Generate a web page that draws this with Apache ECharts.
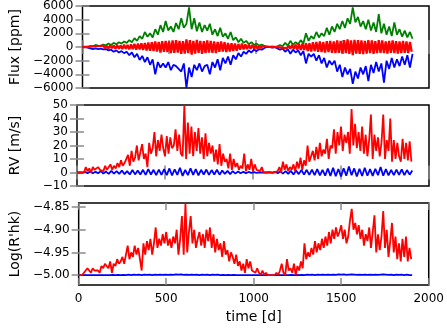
<!DOCTYPE html>
<html>
<head>
<meta charset="utf-8">
<script src="https://cdn.jsdelivr.net/npm/echarts@6/dist/echarts.min.js"></script>
<style>
  html, body { margin: 0; padding: 0; background: #fff; }
  #main { width: 447px; height: 335px; }
</style>
</head>
<body>
<div id="main"></div>
<script>
// sampling times [d] for the green / blue curves
const days = [
  0, 15, 30, 45, 60, 75, 90, 105, 120, 135, 150, 165, 180, 195, 210, 225,
  240, 255, 270, 285, 300, 315, 330, 345, 360, 375, 390, 405, 420, 435, 450, 465,
  480, 495, 510, 525, 540, 555, 570, 585, 600, 615, 630, 645, 660, 675, 690, 705,
  720, 735, 750, 765, 780, 795, 810, 825, 840, 855, 870, 885, 900, 915, 930, 945,
  960, 975, 990, 1005, 1020, 1035, 1050, 1065, 1080, 1095, 1110, 1125, 1140, 1155, 1170, 1185,
  1200, 1215, 1230, 1245, 1260, 1275, 1290, 1305, 1320, 1335, 1350, 1365, 1380, 1395, 1410, 1425,
  1440, 1455, 1470, 1485, 1500, 1515, 1530, 1545, 1560, 1575, 1590, 1605, 1620, 1635, 1650, 1665,
  1680, 1695, 1710, 1725, 1740, 1755, 1770, 1785, 1800, 1815, 1830, 1845, 1860, 1875, 1890, 1905
]
// denser sampling [d] for the red curves
const redDays = [
  0, 10, 20, 30, 40, 50, 60, 70, 80, 90, 100, 110, 120, 130, 140, 150, 160, 170, 180, 190,
  200, 210, 220, 230, 240, 250, 260, 270, 280, 290, 300, 310, 320, 330, 340, 350, 360, 370, 380, 390,
  400, 410, 420, 430, 440, 450, 460, 470, 480, 490, 500, 510, 520, 530, 540, 550, 560, 570, 580, 590,
  600, 610, 620, 630, 640, 650, 660, 670, 680, 690, 700, 710, 720, 730, 740, 750, 760, 770, 780, 790,
  800, 810, 820, 830, 840, 850, 860, 870, 880, 890, 900, 910, 920, 930, 940, 950, 960, 970, 980, 990,
  1000, 1010, 1020, 1030, 1040, 1050, 1060, 1070, 1080, 1090, 1100, 1110, 1120, 1130, 1140, 1150, 1160, 1170, 1180, 1190,
  1200, 1210, 1220, 1230, 1240, 1250, 1260, 1270, 1280, 1290, 1300, 1310, 1320, 1330, 1340, 1350, 1360, 1370, 1380, 1390,
  1400, 1410, 1420, 1430, 1440, 1450, 1460, 1470, 1480, 1490, 1500, 1510, 1520, 1530, 1540, 1550, 1560, 1570, 1580, 1590,
  1600, 1610, 1620, 1630, 1640, 1650, 1660, 1670, 1680, 1690, 1700, 1710, 1720, 1730, 1740, 1750, 1760, 1770, 1780, 1790,
  1800, 1810, 1820, 1830, 1840, 1850, 1860, 1870, 1880, 1890, 1900
]

// Flux [ppm]
const fluxGreen = [
  0, 0, 0, 150, 100, 300, 200, 150, 350, 250, 500, 300, 600, 400, 700, 500,
  800, 600, 1000, 700, 1300, 900, 1600, 1200, 2200, 1500, 2000, 1400, 2600, 1800, 3200, 2200,
  3800, 2400, 3000, 2200, 3500, 2600, 4200, 2800, 3400, 5800, 2600, 4200, 2300, 3600, 2200, 3200,
  2400, 3400, 1800, 2600, 1600, 2800, 1500, 2000, 1200, 2200, 1000, 1400, 700, 1200, 600, 900,
  400, 700, 300, 500, 200, 350, 100, 0, 0, 50, 0, 100, 300, 100, 600, 200,
  900, 300, 700, 400, 1000, 500, 2000, 900, 1600, 1200, 2200, 1400, 2000, 1600, 2800, 1800,
  3000, 2200, 3400, 2600, 3800, 2800, 4200, 3400, 5800, 3600, 4400, 3000, 3800, 2600, 4000, 2400,
  3600, 2200, 4800, 2000, 3400, 1800, 3000, 1600, 3600, 1800, 2600, 1500, 2400, 1400, 2200, 1200
]
const fluxBlue = [
  0, 0, -100, -200, -300, -200, -300, -250, -350, -300, -500, -400, -700, -500, -800, -600,
  -900, -700, -1200, -800, -1500, -1000, -1900, -1300, -2200, -1500, -2600, -1800, -4000, -2200, -3000, -2400,
  -3000, -2200, -3400, -2600, -2800, -3200, -3600, -2400, -6000, -3000, -4400, -2600, -3400, -2400, -3600, -2800,
  -2600, -4000, -2200, -3000, -1800, -3400, -1600, -2400, -1400, -2600, -1200, -1800, -900, -1400, -700, -1000,
  -500, -800, -400, -600, -300, -400, -150, 0, 0, -100, 0, -200, -400, -200, -700, -300,
  -1000, -400, -800, -500, -1200, -600, -2400, -1000, -1400, -1000, -2000, -1200, -2400, -1600, -3000, -2000,
  -2600, -2000, -3600, -2600, -4400, -3000, -4000, -3200, -5400, -3600, -4600, -3000, -4000, -2800, -5000, -2600,
  -3800, -2200, -3600, -2400, -5200, -2000, -3200, -1600, -3000, -1800, -2800, -1400, -2600, -1200, -3000, -1000
]
const fluxRed = [
  0, 0, 0, 0, 50, -80, 100, -60, 120, -100, 150, -120, 200, -180, 150, -200, 250, -150, 220, -250,
  300, -250, 200, -300, 350, -280, 300, -350, 400, -300, 450, -400, 500, -350, 550, -450, 600, -500, 650, -550,
  700, -600, 800, -650, 750, -800, 850, -700, 900, -750, 800, -900, 950, -850, 1000, -800, 900, -1000, 850, -950,
  1100, -900, 1000, -1100, 900, -950, 1050, -850, 900, -1000, 850, -900, 950, -800, 900, -850, 800, -900, 750, -700,
  800, -650, 700, -750, 600, -650, 550, -600, 500, -550, 450, -400, 500, -350, 400, -300, 350, -250, 300, -200,
  250, -200, 200, -150, 150, -100, 80, -50, 30, 0, 0, 20, -30, 50, -60, 100, -120, 150, -180, 200,
  -250, 300, -280, 350, -400, 380, -450, 500, -450, 550, -600, 550, -650, 700, -600, 750, -700, 800, -750, 700,
  -800, 850, -750, 900, -850, 800, -900, 950, -850, 900, -950, 1000, -900, 1100, -1000, 950, -1200, 1050, -950, 1000,
  -1000, 950, -1050, 900, -950, 1000, -900, 950, -1000, 850, -900, 1000, -850, 950, -900, 800, -950, 900, -850, 950,
  -900, 850, -950, 800, -900, 900, -850, 800, -900, 750, -700
]

// RV [m/s]
const rvRed = [
  0, 0, 0, 0, 0, 4, 1, 3, 0, 4, 2, 1, 4, 2, 3, 1, 5, 2, 3, 6,
  2, 5, 3, 7, 4, 9, 5, 7, 6, 13, 5, 16, 8, 11, 20, 9, 15, 21, 10, 14,
  4, 22, 14, 18, 30, 12, 24, 16, 28, 18, 12, 27, 14, 26, 18, 20, 32, 16, 28, 14,
  12, 50, 10, 37, 14, 34, 12, 30, 16, 33, 14, 26, 10, 29, 12, 22, 14, 20, 8, 17,
  6, 21, 5, 14, 8, 10, 3, 14, 2, 10, 4, 7, 2, 5, 3, 14, 1, 6, 2, 10,
  1, 6, 2, 3, 1, 4, 0, 1, 0, 0, 0, 0, 0, 0, 1, 4, 0, 8, 2, 6,
  1, 4, 2, 6, 1, 8, 3, 11, 2, 9, 5, 20, 8, 12, 16, 9, 19, 10, 22, 12,
  17, 14, 25, 10, 20, 18, 32, 14, 30, 20, 34, 16, 28, 22, 30, 14, 47, 20, 36, 18,
  30, 16, 34, 14, 28, 12, 24, 43, 10, 28, 16, 26, 12, 22, 43, 10, 24, 16, 40, 8,
  24, 10, 22, 12, 8, 25, 10, 22, 9, 23, 8
]
const rvBlue = [
  0, 0, 0, 0.5, -0.5, 0.8, -0.6, 0.5, -0.5, 1, -0.8, 0.7, -1, 1.2, -0.8, 1,
  -1, 1.5, -1.2, 1, -1.5, 1.8, -1.4, 1.5, -1.5, 2, -1.8, 2.5, -1.5, 2, -2, 2.2,
  -1.8, 2.5, -2, 3, -2.2, 2.4, -1.8, 3.5, -2.5, 2, -2, 3, -1.8, 2.5, -2.2, 2,
  -1.5, 2.2, -1.8, 1.8, -1.5, 2, -1.6, 1.5, -1, 1.2, -1.2, 1, -0.8, 0.8, -0.6, 0.5,
  -0.5, 0.4, -0.3, 0.3, -0.2, 0.1, 0, 0, 0, 0.2, -0.3, 0.5, -0.6, 0.8, -0.8, 1,
  -1, 1.2, -1.5, 1.4, -1.2, 1.8, -1.6, 2, -1.8, 2.2, -2, 2.5, -2.2, 2, -2.4, 3,
  -2.5, 3.5, -2.8, 2.6, -3, 3.2, -2.4, 4.5, -2, 3, -3, 2.8, -2.6, 3.5, -2.4, 2.5,
  -2.5, 2.8, -2, 4, -2.4, 2.5, -2.2, 2, -2, 2.2, -1.8, 2.4, -2, 1.8, -1.6, 1.5
]

// Log(R'hk)
const rhkRed = [
  -5.0, -5.0, -5.0, -5.0, -4.99, -4.985, -4.99, -4.995, -4.985, -4.99, -4.99, -4.99, -4.995, -4.98, -4.985, -4.975, -4.98, -4.985, -4.97, -4.995,
  -4.975, -4.98, -4.965, -4.975, -4.97, -4.96, -4.975, -4.955, -4.935, -4.965, -4.95, -4.96, -4.935, -4.955, -4.94, -4.965, -4.99, -4.93, -4.955, -4.925,
  -4.945, -4.92, -4.955, -4.93, -4.895, -4.94, -4.92, -4.935, -4.91, -4.93, -4.905, -4.935, -4.92, -4.94, -4.915, -4.93, -4.9, -4.955, -4.92, -4.87,
  -4.955, -4.843, -4.95, -4.905, -4.87, -4.93, -4.9, -4.94, -4.92, -4.905, -4.935, -4.91, -4.94, -4.9, -4.925, -4.895, -4.94, -4.91, -4.95, -4.92,
  -4.945, -4.93, -4.96, -4.925, -4.955, -4.945, -4.97, -4.95, -4.96, -4.975, -4.955, -4.98, -4.97, -4.99, -4.975, -4.995, -4.965, -4.985, -4.97, -4.99,
  -4.99, -4.995, -4.985, -4.995, -5.0, -4.99, -5.0, -4.995, -5.0, -5.0, -5.0, -5.0, -5.0, -4.995, -5.0, -4.99, -4.975, -4.995, -5.0, -4.965,
  -4.99, -4.985, -4.995, -4.975, -5.0, -4.98, -4.99, -4.97, -4.985, -4.93, -4.965, -4.95, -4.96, -4.94, -4.955, -4.925, -4.95, -4.93, -4.945, -4.92,
  -4.94, -4.915, -4.935, -4.905, -4.93, -4.9, -4.92, -4.895, -4.915, -4.905, -4.89, -4.92, -4.9, -4.93, -4.915, -4.88, -4.854, -4.9, -4.885, -4.91,
  -4.89, -4.92, -4.9, -4.935, -4.91, -4.925, -4.895, -4.94, -4.905, -4.868, -4.95, -4.91, -4.945, -4.915, -4.859, -4.94, -4.9, -4.96, -4.925, -4.885,
  -4.95, -4.915, -4.965, -4.93, -4.97, -4.92, -4.96, -4.915, -4.97, -4.94, -4.965
]
const rhkBlue = [
  -5.0, -5.0, -5.0, -5.0, -5.0, -5.0, -5.0, -5.0, -5.0, -5.0, -5.0, -5.0, -5.0, -4.9995, -5.0, -4.9995,
  -5.0, -4.9995, -5.0, -4.999, -5.0, -4.999, -4.9995, -4.999, -5.0, -4.999, -4.9995, -4.999, -5.0, -4.999, -4.9995, -4.999,
  -4.9995, -4.999, -4.9995, -4.999, -4.9995, -4.9985, -4.999, -4.9985, -4.9995, -4.999, -4.9995, -4.999, -4.9995, -4.999, -5.0, -4.999,
  -4.9995, -4.999, -5.0, -4.999, -4.9995, -4.999, -5.0, -4.9995, -5.0, -4.9995, -5.0, -4.9995, -5.0, -5.0, -5.0, -5.0,
  -5.0, -5.0, -5.0, -5.0, -5.0, -5.0, -5.0, -5.0, -5.0, -5.0, -5.0, -5.0, -5.0, -5.0, -5.0, -5.0,
  -5.0, -4.9995, -5.0, -4.9995, -5.0, -4.9995, -5.0, -4.999, -4.9995, -4.999, -5.0, -4.999, -4.9995, -4.999, -4.9995, -4.999,
  -4.9995, -4.999, -4.9995, -4.9985, -4.999, -4.9985, -4.9995, -4.999, -4.9985, -4.999, -4.9995, -4.999, -4.9995, -4.999, -4.9995, -4.999,
  -4.9995, -4.999, -4.9995, -4.999, -4.9985, -4.999, -4.9995, -4.999, -5.0, -4.999, -4.9995, -4.999, -5.0, -4.999, -5.0, -5.0
]

// tick labels
const timeTicks = [0, 500, 1000, 1500, 2000]
const fluxTicks = [-6000, -4000, -2000, 0, 2000, 4000, 6000]
const rvTicks = [-10, 0, 10, 20, 30, 40, 50]
const rhkTicks = [-5.00, -4.95, -4.90, -4.85]

const FONT = 'DejaVu Sans'
const minus = s => String(s).replace('-', '\u2212')

const grids = [
  { left: 77, top: 5, width: 352, height: 83 },
  { left: 77, top: 105, width: 352, height: 81 },
  { left: 77, top: 203, width: 352, height: 82 }
]

const tickStyle = { show: true, inside: true, length: 7, lineStyle: { color: '#8a8a8a', width: 1.5 } }

function xAx (gi, pos, labels) {
  return {
    type: 'value', gridIndex: gi, position: pos, min: 0, max: 2000,
    axisLine: { show: false },
    axisTick: Object.assign({ customValues: timeTicks }, tickStyle),
    splitLine: { show: false },
    axisLabel: {
      show: labels, customValues: timeTicks, margin: 8,
      fontFamily: FONT, fontSize: 12, color: '#000',
      formatter: v => String(v)
    },
    name: labels ? 'time [d]' : '',
    nameLocation: 'middle', nameGap: 25,
    nameTextStyle: { fontFamily: FONT, fontSize: 14, color: '#000' }
  }
}

function yAx (gi, pos, min, max, ticks, name, fmt) {
  return {
    type: 'value', gridIndex: gi, position: pos, min: min, max: max,
    axisLine: { show: false },
    axisTick: Object.assign({ customValues: ticks }, tickStyle),
    splitLine: { show: false },
    axisLabel: {
      show: pos === 'left', customValues: ticks, margin: 9,
      fontFamily: FONT, fontSize: 12, color: '#000',
      formatter: v => minus(fmt(v))
    },
    name: pos === 'left' ? name : '',
    nameLocation: 'middle', nameGap: 55,
    nameTextStyle: { fontFamily: FONT, fontSize: 14, color: '#000' }
  }
}

function line (xi, yi, t, vals, color, w) {
  return {
    type: 'line', xAxisIndex: xi, yAxisIndex: yi,
    data: t.map((d, i) => [d, vals[i]]),
    showSymbol: false, symbol: 'none', silent: true,
    lineStyle: { color: color, width: w || 1.8 }
  }
}

const chart = echarts.init(document.getElementById('main'), null, { renderer: 'canvas' })

chart.setOption({
  animation: false,
  backgroundColor: '#fff',
  grid: grids.map(g => Object.assign({ show: true, borderColor: '#000', borderWidth: 1.5, backgroundColor: 'transparent' }, g)),
  xAxis: [
    xAx(0, 'bottom', false), xAx(0, 'top', false),
    xAx(1, 'bottom', false), xAx(1, 'top', false),
    xAx(2, 'bottom', true), xAx(2, 'top', false)
  ],
  yAxis: [
    yAx(0, 'left', -6000, 6000, fluxTicks, 'Flux [ppm]', v => String(v)),
    yAx(0, 'right', -6000, 6000, fluxTicks, '', v => String(v)),
    yAx(1, 'left', -10, 50, rvTicks, 'RV [m/s]', v => String(v)),
    yAx(1, 'right', -10, 50, rvTicks, '', v => String(v)),
    yAx(2, 'left', -5.022, -4.841, rhkTicks, "Log(R'hk)", v => v.toFixed(2)),
    yAx(2, 'right', -5.022, -4.841, rhkTicks, '', v => v.toFixed(2))
  ],
  series: [
    line(0, 0, days, fluxGreen, '#008000'),
    line(0, 0, days, fluxBlue, '#0000ff'),
    line(0, 0, redDays, fluxRed, '#ff0000', 2.3),
    line(2, 2, days, rvBlue, '#0000ff'),
    line(2, 2, redDays, rvRed, '#ff0000'),
    line(4, 4, days, rhkBlue, '#0000ff'),
    line(4, 4, redDays, rhkRed, '#ff0000')
  ]
})
</script>
</body>
</html>
